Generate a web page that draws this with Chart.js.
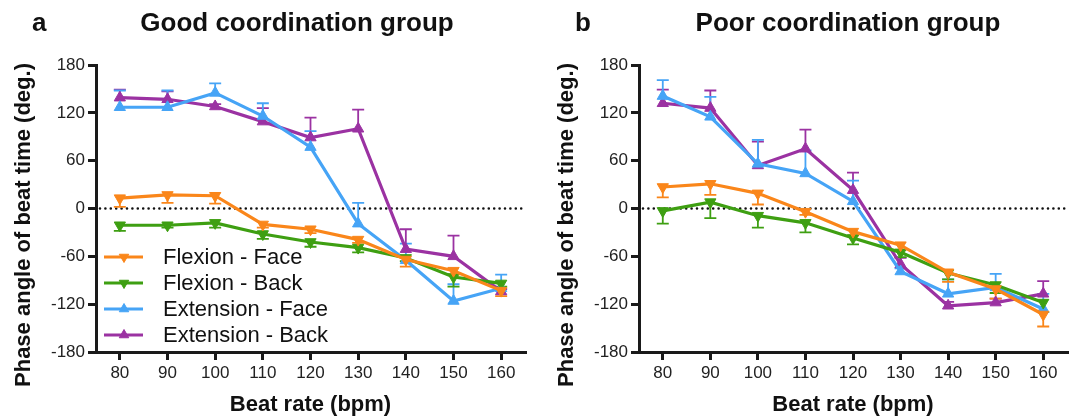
<!DOCTYPE html>
<html>
<head>
<meta charset="utf-8">
<script src="https://cdn.jsdelivr.net/npm/chart.js@4.4.1/dist/chart.umd.min.js"></script>
<style>
html, body { margin: 0; padding: 0; background: #fff; }
#wrap { position: relative; width: 1078px; height: 420px; }
#wrap canvas { position: absolute; top: 0; }
</style>
</head>
<body>
<div id="wrap">
  <canvas id="chartGood" width="539" height="420" style="left:0"></canvas>
  <canvas id="chartPoor" width="539" height="420" style="left:539px"></canvas>
</div>
<script>
// beat rates on the x axis
var beatRates = ['80', '90', '100', '110', '120', '130', '140', '150', '160'];
var yTicks = [-180, -120, -60, 0, 60, 120, 180];
var seriesNames = ['Flexion - Face', 'Flexion - Back', 'Extension - Face', 'Extension - Back'];
// flexion bars hang below the point, extension bars go above
var errorSides = [-1, -1, 1, 1];

// a: good coordination group (mean, error)
var goodFlexFace = [13, 17, 16, -20, -26, -39, -64, -78, -103];
var goodFlexFaceErr = [11, 10, 10, 4, 5, 4, 9, 5, 7];
var goodFlexBack = [-21, -21, -18, -32, -42, -49, -62, -86, -94];
var goodFlexBackErr = [7, 3, 6, 6, 6, 6, 4, 12, 4];
var goodExtFace = [127, 127, 145, 116, 77, -19, -65, -116, -100];
var goodExtFaceErr = [21, 21, 12, 16, 20, 26, 21, 21, 17];
var goodExtBack = [139, 137, 128, 109, 89, 100, -51, -60, -104];
var goodExtBackErr = [10, 10, 3, 17, 25, 24, 25, 26, 3];

// b: poor coordination group (mean, error)
var poorFlexFace = [27, 31, 19, -4, -29, -46, -80, -101, -133];
var poorFlexFaceErr = [13, 14, 14, 4, 5, 6, 12, 12, 15];
var poorFlexBack = [-3, 8, -9, -18, -37, -55, -81, -96, -118];
var poorFlexBackErr = [16, 20, 15, 12, 8, 6, 8, 10, 12];
var poorExtFace = [141, 115, 56, 44, 9, -79, -107, -99, -126];
var poorExtFaceErr = [20, 25, 30, 29, 26, 4, 18, 17, 19];
var poorExtBack = [132, 126, 54, 75, 23, -70, -122, -118, -107];
var poorExtBackErr = [17, 22, 30, 24, 22, 8, 5, 5, 16];

var colors = ['#FA861A', '#3E9F12', '#46A4F6', '#9B32A2'];
var rotations = [180, 180, 0, 0];
var FONT = "'Liberation Sans', Arial, sans-serif";
var INK = '#1a1a1a';

function makeDatasets(values, errors) {
  return values.map(function(v, i) {
    return {
      label: seriesNames[i],
      data: v,
      errors: errors[i],
      errorSide: errorSides[i],
      borderColor: colors[i],
      backgroundColor: colors[i],
      borderWidth: 3.2,
      pointStyle: 'triangle',
      rotation: rotations[i],
      pointRadius: 6.5,
      pointBorderWidth: 1,
      pointBackgroundColor: colors[i],
      pointBorderColor: colors[i],
      tension: 0,
      fill: false
    };
  });
}

// dotted zero line and one-sided error bars, drawn under the lines
var errorBars = {
  id: 'errorBars',
  beforeDatasetsDraw: function(chart) {
    var ctx = chart.ctx, y = chart.scales.y, area = chart.chartArea;
    ctx.save();
    var y0 = y.getPixelForValue(0);
    ctx.strokeStyle = '#111';
    ctx.lineWidth = 2.6;
    ctx.lineCap = 'round';
    ctx.setLineDash([0, 5.4]);
    ctx.beginPath();
    ctx.moveTo(area.left + 4, y0);
    ctx.lineTo(area.right, y0);
    ctx.stroke();
    ctx.setLineDash([]);
    ctx.lineCap = 'butt';
    for (var i = chart.data.datasets.length - 1; i >= 0; i--) {
      var ds = chart.data.datasets[i];
      var meta = chart.getDatasetMeta(i);
      ctx.strokeStyle = ds.borderColor;
      ctx.lineWidth = 1.8;
      meta.data.forEach(function(pt, j) {
        var e = ds.errors[j];
        if (!e) return;
        var end = y.getPixelForValue(ds.data[j] + ds.errorSide * e);
        ctx.beginPath();
        ctx.moveTo(pt.x, pt.y); ctx.lineTo(pt.x, end);
        ctx.moveTo(pt.x - 6, end); ctx.lineTo(pt.x + 6, end);
        ctx.stroke();
      });
    }
    ctx.restore();
  }
};

// panel letter, title, axis titles and legend
var panelText = {
  id: 'panelText',
  afterDraw: function(chart, args, opts) {
    var ctx = chart.ctx, area = chart.chartArea;
    ctx.save();
    ctx.fillStyle = '#111';
    ctx.textBaseline = 'alphabetic';
    ctx.font = 'bold 26px ' + FONT;
    ctx.textAlign = 'left';
    ctx.fillText(opts.letter, opts.letterX, 31);
    ctx.textAlign = 'center';
    ctx.fillText(opts.title, opts.titleX, 31);

    ctx.font = 'bold 22px ' + FONT;
    ctx.textBaseline = 'middle';
    ctx.fillText('Beat rate (bpm)', (area.left + area.right) / 2, 405);
    ctx.save();
    ctx.translate(area.left - 72, 225);
    ctx.rotate(-Math.PI / 2);
    ctx.fillText('Phase angle of beat time (deg.)', 0, 0);
    ctx.restore();

    if (opts.legend) {
      ctx.font = '22px ' + FONT;
      ctx.textAlign = 'left';
      chart.data.datasets.forEach(function(ds, i) {
        var ly = 257 + i * 26;
        ctx.strokeStyle = ds.borderColor;
        ctx.fillStyle = ds.borderColor;
        ctx.lineWidth = 3.2;
        ctx.beginPath();
        ctx.moveTo(area.left + 8, ly);
        ctx.lineTo(area.left + 47, ly);
        ctx.stroke();
        ctx.lineWidth = 1;
        Chart.helpers.drawPoint(ctx, {pointStyle: 'triangle', rotation: ds.rotation, radius: 5.5, borderWidth: 1}, area.left + 28, ly);
        ctx.fillStyle = '#111';
        ctx.fillText(ds.label, area.left + 67, ly + 1);
      });
    }
    ctx.restore();
  }
};

function makeChart(id, values, errors, p) {
  var ctx = document.getElementById(id).getContext('2d');
  return new Chart(ctx, {
    type: 'line',
    data: { labels: beatRates, datasets: makeDatasets(values, errors) },
    plugins: [errorBars, panelText],
    options: {
      responsive: false,
      animation: false,
      layout: { padding: { left: 0, right: p.right, top: 65, bottom: 0 } },
      plugins: {
        legend: { display: false },
        tooltip: { enabled: false },
        panelText: p
      },
      scales: {
        x: {
          type: 'category',
          offset: true,
          grid: { drawOnChartArea: false, drawTicks: true, tickLength: 8, lineWidth: 3, color: INK },
          border: { display: true, width: 3, color: INK },
          ticks: { color: '#222', font: { family: FONT, size: 17 }, padding: 3, maxRotation: 0 },
          afterFit: function(s) { s.height = 68; }
        },
        y: {
          min: yTicks[0],
          max: yTicks[yTicks.length - 1],
          grid: { drawOnChartArea: false, drawTicks: true, tickLength: 8, lineWidth: 3, color: INK },
          border: { display: true, width: 3, color: INK },
          ticks: { stepSize: 60, color: '#222', font: { family: FONT, size: 17 }, padding: 3 },
          afterFit: function(s) { s.width = p.axisX; }
        }
      }
    }
  });
}

var chartGood = makeChart('chartGood',
  [goodFlexFace, goodFlexBack, goodExtFace, goodExtBack],
  [goodFlexFaceErr, goodFlexBackErr, goodExtFaceErr, goodExtBackErr],
  { axisX: 96, right: 14, letter: 'a', letterX: 32, title: 'Good coordination group', titleX: 297, legend: true });

var chartPoor = makeChart('chartPoor',
  [poorFlexFace, poorFlexBack, poorExtFace, poorExtBack],
  [poorFlexFaceErr, poorFlexBackErr, poorExtFaceErr, poorExtBackErr],
  { axisX: 100, right: 11, letter: 'b', letterX: 36, title: 'Poor coordination group', titleX: 309, legend: false });
</script>
</body>
</html>
